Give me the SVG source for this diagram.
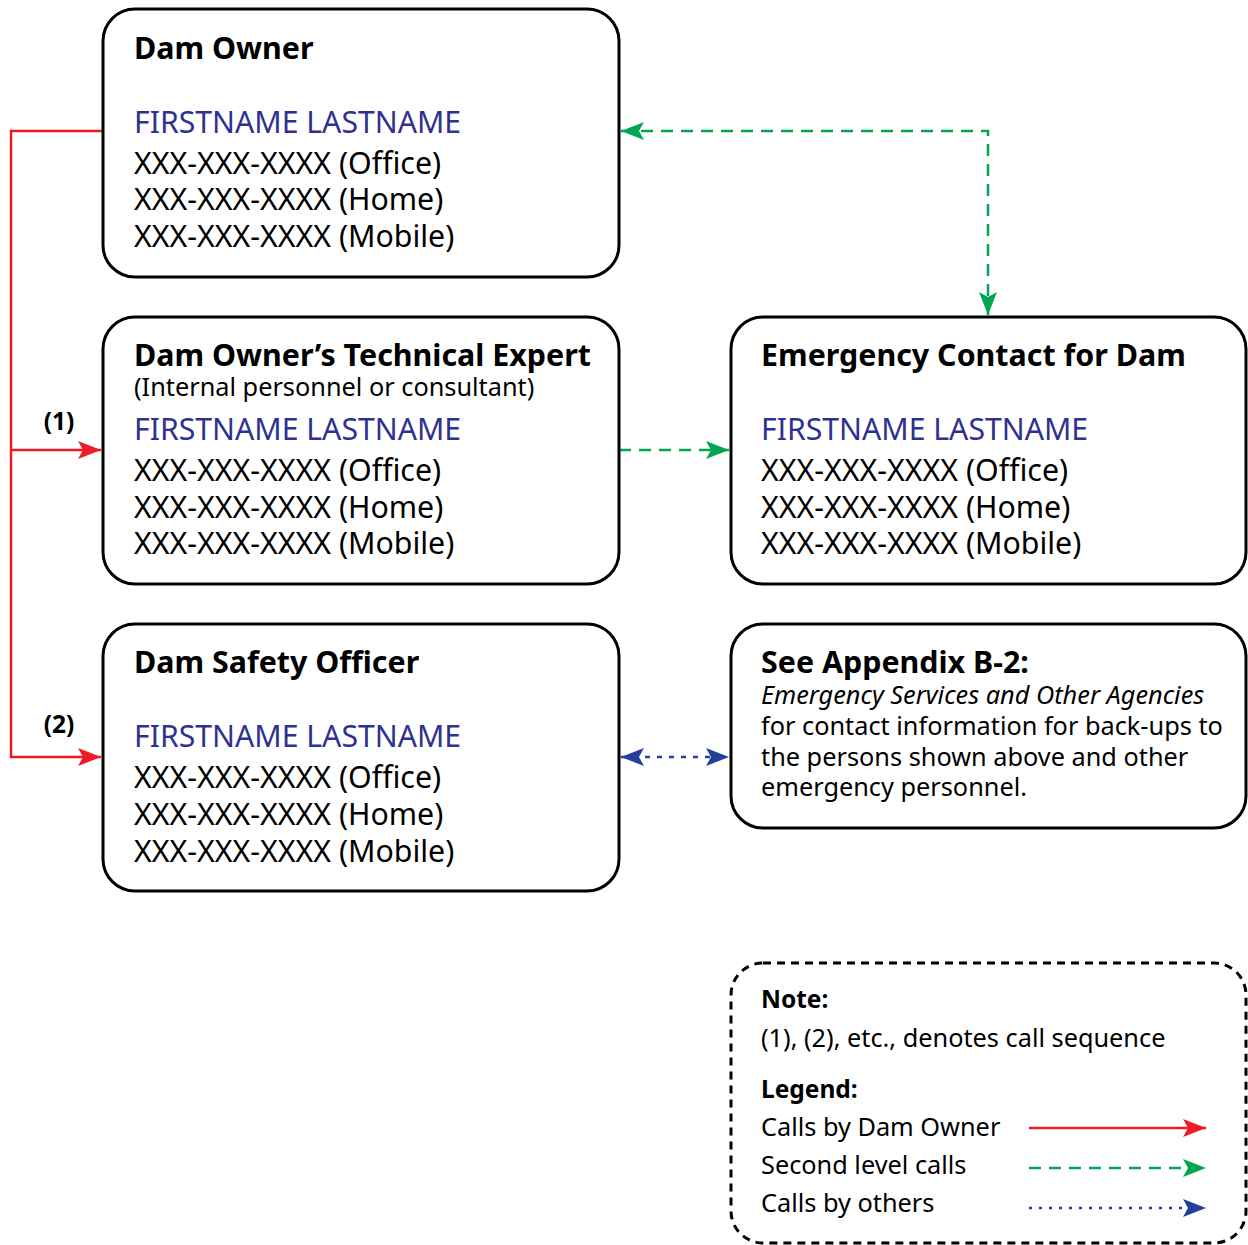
<svg xmlns="http://www.w3.org/2000/svg" width="1248" height="1245" viewBox="0 0 1248 1245">
<style>
.box{fill:#fff;stroke:#000;stroke-width:3}
.note{fill:#fff;stroke:#000;stroke-width:3;stroke-dasharray:8 6}
text{font-family:"Noto Sans","Open Sans","DejaVu Sans",sans-serif;fill:#000}
.t{font-size:30.4px;font-weight:bold}
.n{font-size:30.2px;fill:#2e3192}
.p{font-size:30.3px}
.s{font-size:25.3px}
.a{font-size:25.3px}
.ai{font-size:25.3px;font-style:italic}
.lb{font-size:24.5px;font-weight:bold}
.l{font-size:25.3px}
.red{fill:none;stroke:#ed1c24;stroke-width:2.5}
.grn{fill:none;stroke:#00a650;stroke-width:2.5;stroke-dasharray:12 8}
.blu{fill:none;stroke:#233f99;stroke-width:2.5;stroke-dasharray:5 7}
</style>
<defs>
<marker id="ar" markerUnits="userSpaceOnUse" viewBox="0 -10 24 20" refX="23" refY="0" markerWidth="24" markerHeight="20" orient="auto-start-reverse"><path d="M0,-9 L23,0 L0,9 L5,0 Z" fill="#ed1c24"/></marker>
<marker id="ag" markerUnits="userSpaceOnUse" viewBox="0 -10 24 20" refX="23" refY="0" markerWidth="24" markerHeight="20" orient="auto-start-reverse"><path d="M0,-9 L23,0 L0,9 L5,0 Z" fill="#00a650"/></marker>
<marker id="ab" markerUnits="userSpaceOnUse" viewBox="0 -10 24 20" refX="23" refY="0" markerWidth="24" markerHeight="20" orient="auto-start-reverse"><path d="M0,-9 L23,0 L0,9 L5,0 Z" fill="#233f99"/></marker>
</defs>

<g id="connectors">
<path class="red" d="M103,131 H11 V757 H101" marker-end="url(#ar)"/>
<path class="red" d="M11,450 H101" marker-end="url(#ar)"/>
<path class="grn" d="M621,131 H988 V315" marker-start="url(#ag)" marker-end="url(#ag)"/>
<path class="grn" d="M619,450 H729" marker-end="url(#ag)"/>
<path class="blu" d="M621,757 H729" marker-start="url(#ab)" marker-end="url(#ab)"/>
<text class="lb" x="59" y="430" text-anchor="middle">(1)</text>
<text class="lb" x="59" y="733" text-anchor="middle">(2)</text>
</g>

<g id="dam-owner">
<rect class="box" x="103" y="9" width="516" height="268" rx="32"/>
<text class="t" x="134" y="59">Dam Owner</text>
<text class="n" x="134" y="133">FIRSTNAME LASTNAME</text>
<text class="p" x="134" y="174">XXX-XXX-XXXX (Office)</text>
<text class="p" x="134" y="210">XXX-XXX-XXXX (Home)</text>
<text class="p" x="134" y="247">XXX-XXX-XXXX (Mobile)</text>
</g>

<g id="technical-expert">
<rect class="box" x="103" y="317" width="516" height="267" rx="32"/>
<text class="t" x="134" y="366">Dam Owner’s Technical Expert</text>
<text class="s" x="134" y="396">(Internal personnel or consultant)</text>
<text class="n" x="134" y="440">FIRSTNAME LASTNAME</text>
<text class="p" x="134" y="481">XXX-XXX-XXXX (Office)</text>
<text class="p" x="134" y="518">XXX-XXX-XXXX (Home)</text>
<text class="p" x="134" y="554">XXX-XXX-XXXX (Mobile)</text>
</g>

<g id="dam-safety-officer">
<rect class="box" x="103" y="624" width="516" height="267" rx="32"/>
<text class="t" x="134" y="673">Dam Safety Officer</text>
<text class="n" x="134" y="747">FIRSTNAME LASTNAME</text>
<text class="p" x="134" y="788">XXX-XXX-XXXX (Office)</text>
<text class="p" x="134" y="825">XXX-XXX-XXXX (Home)</text>
<text class="p" x="134" y="862">XXX-XXX-XXXX (Mobile)</text>
</g>

<g id="emergency-contact">
<rect class="box" x="731" y="317" width="515" height="267" rx="32"/>
<text class="t" x="761" y="366">Emergency Contact for Dam</text>
<text class="n" x="761" y="440">FIRSTNAME LASTNAME</text>
<text class="p" x="761" y="481">XXX-XXX-XXXX (Office)</text>
<text class="p" x="761" y="518">XXX-XXX-XXXX (Home)</text>
<text class="p" x="761" y="554">XXX-XXX-XXXX (Mobile)</text>
</g>

<g id="appendix">
<rect class="box" x="731" y="624" width="515" height="204" rx="32"/>
<text class="t" x="761" y="673">See Appendix B-2:</text>
<text class="ai" x="761" y="704">Emergency Services and Other Agencies</text>
<text class="a" x="761" y="735">for contact information for back-ups to</text>
<text class="a" x="761" y="766">the persons shown above and other</text>
<text class="a" x="761" y="796">emergency personnel.</text>
</g>

<g id="note">
<rect class="note" x="731" y="963" width="515" height="280" rx="32"/>
<text class="lb" x="761" y="1008">Note:</text>
<text class="l" x="761" y="1047">(1), (2), etc., denotes call sequence</text>
<text class="lb" x="761" y="1098">Legend:</text>
<text class="l" x="761" y="1136">Calls by Dam Owner</text>
<text class="l" x="761" y="1174">Second level calls</text>
<text class="l" x="761" y="1212">Calls by others</text>
<path class="red" d="M1029,1128 H1206" marker-end="url(#ar)"/>
<path class="grn" d="M1029,1168 H1206" marker-end="url(#ag)"/>
<path class="blu" d="M1029,1208 H1206" style="stroke-dasharray:3 7" marker-end="url(#ab)"/>
</g>
</svg>
